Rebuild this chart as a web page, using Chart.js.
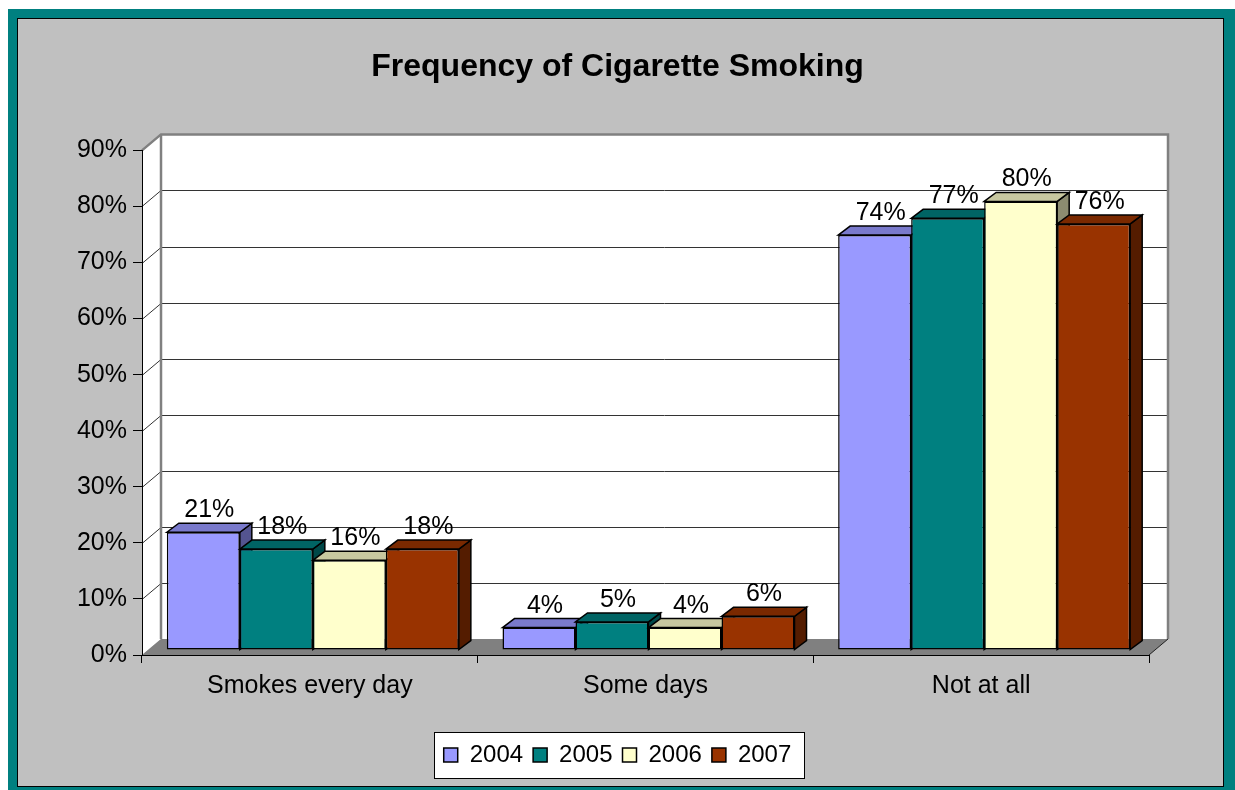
<!DOCTYPE html>
<html>
<head>
<meta charset="utf-8">
<title>Frequency of Cigarette Smoking</title>
<script src="https://cdn.jsdelivr.net/npm/chart.js@4.4.1/dist/chart.umd.min.js"></script>
<style>
  html, body { margin: 0; padding: 0; background: #fff; }
  canvas { display: block; }
</style>
</head>
<body>
<canvas id="chart" width="1235" height="790"></canvas>
<script>
// ---- data ----
const categories = ['Smokes every day', 'Some days', 'Not at all'];
const years = ['2004', '2005', '2006', '2007'];
const y2004 = [21, 4, 74];
const y2005 = [18, 5, 77];
const y2006 = [16, 4, 80];
const y2007 = [18, 6, 76];
const yTickValues = [0, 10, 20, 30, 40, 50, 60, 70, 80, 90];
const yTickLabels = ['0%', '10%', '20%', '30%', '40%', '50%', '60%', '70%', '80%', '90%'];

// ---- styling ----
const FONT = '"Liberation Sans", Arial, Helvetica, sans-serif';
const frontColors = ['#9999FF', '#008080', '#FFFFCC', '#993300'];
const topColors   = ['#7A7ACC', '#006464', '#C8C8A0', '#7A2900'];
const sideColors  = ['#545490', '#004848', '#8C8C70', '#541C00'];

const WALL_DX = 19, WALL_DY = 16;   // depth of the back wall / floor
const BAR_DX = 12, BAR_DY = 9;      // depth of each column
const BAR_SHIFT_X = 3, BAR_SHIFT_Y = -5; // columns sit slightly behind the front edge

function poly(ctx, pts) {
  ctx.beginPath();
  ctx.moveTo(pts[0][0], pts[0][1]);
  for (let i = 1; i < pts.length; i++) ctx.lineTo(pts[i][0], pts[i][1]);
  ctx.closePath();
}

// Frame, back wall, side wall, floor and legend box
const framePlugin = {
  id: 'frame3d',
  beforeDraw(chart) {
    const ctx = chart.ctx;
    const W = chart.width, H = chart.height;
    ctx.save();
    ctx.fillStyle = '#ffffff';
    ctx.fillRect(0, 0, W, H);
    ctx.fillStyle = '#008080';
    ctx.fillRect(8, 9, W - 8, H - 9);
    ctx.fillStyle = '#000000';
    ctx.fillRect(17, 18, 1207, 769);
    ctx.fillStyle = '#C0C0C0';
    ctx.fillRect(18, 19, 1205, 767);

    const a = chart.chartArea;
    const ys = chart.scales.y;
    const L = a.left, R = a.right, T = a.top, B = a.bottom;
    const dx = WALL_DX, dy = WALL_DY;

    // side wall
    ctx.fillStyle = '#ffffff';
    poly(ctx, [[L, T], [L + dx, T - dy], [L + dx, B - dy], [L, B]]);
    ctx.fill();
    // back wall
    ctx.fillRect(L + dx, T - dy, R - L, B - T);
    // floor
    ctx.fillStyle = '#808080';
    poly(ctx, [[L, B], [L + dx, B - dy], [R + dx, B - dy], [R, B]]);
    ctx.fill();

    // gridlines on the walls
    ctx.strokeStyle = '#333333';
    ctx.lineWidth = 1;
    ys.ticks.forEach((t) => {
      if (t.value <= ys.min || t.value >= ys.max) return;
      const py = Math.round(ys.getPixelForValue(t.value));
      ctx.beginPath();
      ctx.moveTo(L, py + 0.5);
      ctx.lineTo(L + dx, py - dy + 0.5);
      ctx.lineTo(R + dx, py - dy + 0.5);
      ctx.stroke();
    });

    // wall edges
    ctx.strokeStyle = '#808080';
    ctx.lineWidth = 2.5;
    ctx.beginPath();
    ctx.moveTo(L, T);
    ctx.lineTo(L + dx, T - dy);
    ctx.lineTo(R + dx, T - dy);
    ctx.lineTo(R + dx, B - dy);
    ctx.stroke();
    ctx.beginPath();
    ctx.moveTo(L + dx, T - dy);
    ctx.lineTo(L + dx, B - dy);
    ctx.stroke();
    // floor right edge
    ctx.strokeStyle = '#222';
    ctx.lineWidth = 1;
    ctx.beginPath();
    ctx.moveTo(R, B);
    ctx.lineTo(R + dx, B - dy);
    ctx.stroke();

    // legend box
    const hb = chart.legend && chart.legend.legendHitBoxes;
    if (hb && hb.length) {
      const first = hb[0], last = hb[hb.length - 1];
      const x0 = Math.round(first.left - 10);
      const x1 = Math.round(last.left + last.width + 13);
      const y0 = Math.round(first.top - 11);
      const y1 = Math.round(first.top + first.height + 11);
      ctx.fillStyle = '#ffffff';
      ctx.fillRect(x0, y0, x1 - x0, y1 - y0);
      ctx.strokeStyle = '#000000';
      ctx.lineWidth = 1;
      ctx.strokeRect(x0 + 0.5, y0 + 0.5, x1 - x0, y1 - y0);
    }
    ctx.restore();
  }
};

// Columns drawn back-to-front with their top and side faces, then the value labels
const barsPlugin = {
  id: 'bars3d',
  beforeDatasetsDraw(chart) {
    const ctx = chart.ctx;
    ctx.save();
    ctx.translate(BAR_SHIFT_X, BAR_SHIFT_Y);
    const labels = [];
    chart.data.datasets.forEach((ds, di) => {
      const meta = chart.getDatasetMeta(di);
      if (meta.hidden) return;
      meta.data.forEach((el, j) => {
        const p = el.getProps(['x', 'y', 'base', 'width'], true);
        const l = p.x - p.width / 2, r = p.x + p.width / 2;
        const top = p.y, bot = p.base;
        el.draw(ctx, chart.chartArea);
        ctx.lineWidth = 1.5;
        ctx.lineJoin = 'miter';
        ctx.strokeStyle = '#000';
        // side face
        ctx.fillStyle = sideColors[di];
        poly(ctx, [[r, top], [r + BAR_DX, top - BAR_DY], [r + BAR_DX, bot - BAR_DY], [r, bot]]);
        ctx.fill();
        ctx.stroke();
        // top face
        ctx.fillStyle = topColors[di];
        poly(ctx, [[l, top], [l + BAR_DX, top - BAR_DY], [r + BAR_DX, top - BAR_DY], [r, top]]);
        ctx.fill();
        ctx.stroke();
        labels.push({ x: p.x + BAR_DX / 2, y: top - BAR_DY - 6, text: ds.data[j] + '%' });
      });
    });
    ctx.fillStyle = '#000';
    ctx.font = '25px ' + FONT;
    ctx.textAlign = 'center';
    ctx.textBaseline = 'alphabetic';
    labels.forEach((lb) => ctx.fillText(lb.text, lb.x, lb.y));
    ctx.restore();
    return false;
  }
};

const series = [y2004, y2005, y2006, y2007];

new Chart(document.getElementById('chart'), {
  type: 'bar',
  data: {
    labels: categories,
    datasets: series.map((vals, i) => ({
      label: years[i],
      data: vals,
      yAxisID: 'y',
      backgroundColor: frontColors[i],
      borderColor: '#000000',
      borderWidth: 1.5,
      borderSkipped: false,
      barPercentage: 1.0,
      categoryPercentage: 0.87
    }))
  },
  options: {
    responsive: false,
    animation: false,
    devicePixelRatio: 1,
    layout: { padding: { left: 0, right: 0, top: 20, bottom: 13 } },
    plugins: {
      title: {
        display: true,
        text: 'Frequency of Cigarette Smoking',
        color: '#000',
        font: { family: FONT, size: 32, weight: 'bold' },
        padding: { top: 28, bottom: 64 }
      },
      legend: {
        display: true,
        position: 'bottom',
        labels: {
          color: '#000',
          font: { family: FONT, size: 24 },
          boxWidth: 14,
          boxHeight: 14,
          padding: 10
        }
      },
      tooltip: { enabled: false }
    },
    scales: {
      x: {
        type: 'category',
        grid: {
          display: true,
          drawOnChartArea: false,
          drawTicks: true,
          tickLength: 8,
          offset: true,
          color: '#000',
          lineWidth: 1
        },
        border: { display: true, color: '#000', width: 1 },
        ticks: {
          color: '#000',
          font: { family: FONT, size: 25 },
          padding: 8,
          maxRotation: 0,
          autoSkip: false
        },
        afterFit(s) { s.height = 78; }
      },
      y: {
        type: 'linear',
        position: 'left',
        min: yTickValues[0],
        max: yTickValues[yTickValues.length - 1],
        afterBuildTicks(s) { s.ticks = yTickValues.map((v) => ({ value: v })); },
        ticks: {
          color: '#000',
          font: { family: FONT, size: 25 },
          padding: 6,
          callback: (v) => yTickLabels[yTickValues.indexOf(v)]
        },
        grid: {
          display: true,
          drawOnChartArea: false,
          drawTicks: true,
          tickLength: 9,
          color: '#000'
        },
        border: { display: true, color: '#000', width: 1 },
        afterFit(s) { s.width = 142; }
      },
      yRight: {
        type: 'linear',
        position: 'right',
        display: true,
        ticks: { display: false },
        grid: { display: false },
        border: { display: false },
        afterFit(s) { s.width = 86; }
      }
    }
  },
  plugins: [framePlugin, barsPlugin]
});
</script>
</body>
</html>
